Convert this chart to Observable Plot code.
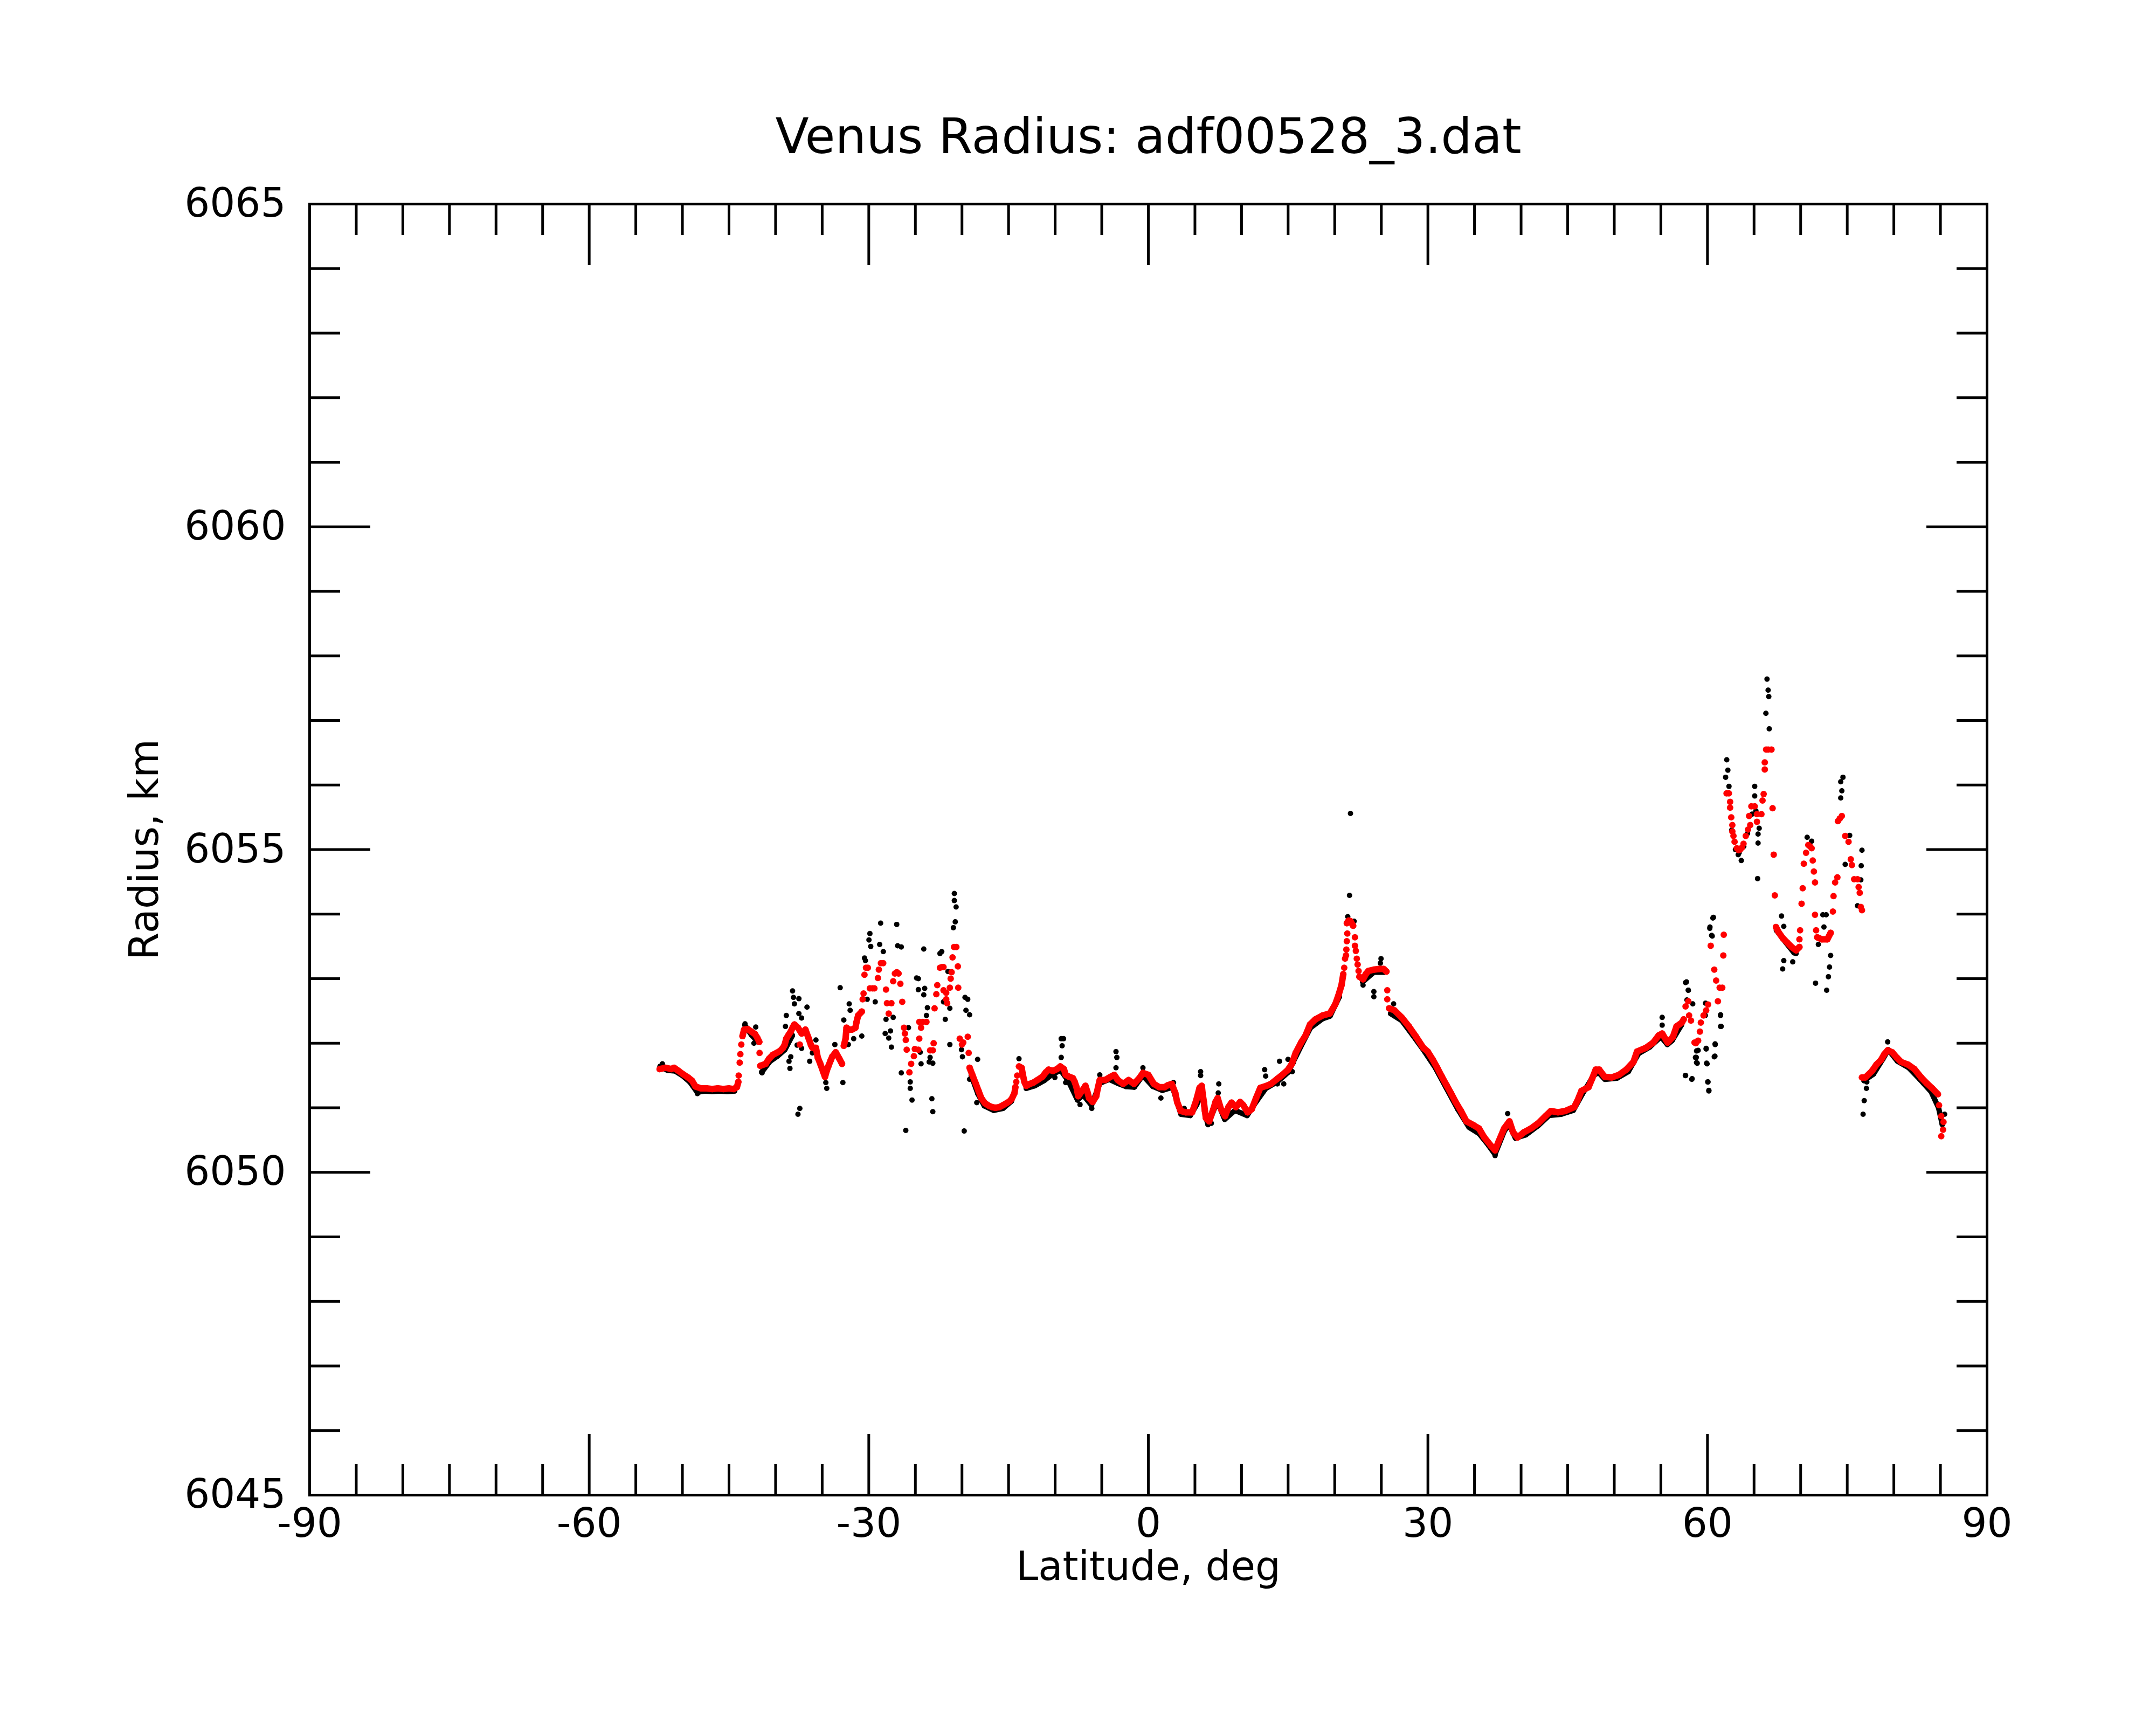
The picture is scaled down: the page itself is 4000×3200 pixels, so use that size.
<!DOCTYPE html>
<html><head><meta charset="utf-8">
<script src="https://cdn.jsdelivr.net/npm/d3@7"></script>
<script src="https://cdn.jsdelivr.net/npm/@observablehq/plot@0.6"></script>
<style>html,body{margin:0;padding:0;background:#fff;} #chart svg{display:block;}</style>
</head><body><div id="chart"></div>
<script>
const titleText = "Venus Radius: adf00528_3.dat";
const xLabel = "Latitude, deg";
const yLabel = "Radius, km";
const xDomain = [-90, 90];
const yDomain = [6045, 6065];
const xMajorTicks = [-90, -60, -30, 0, 30, 60, 90];
const xMinorTicks = [-85, -80, -75, -70, -65, -55, -50, -45, -40, -35, -25, -20, -15, -10, -5, 5, 10, 15, 20, 25, 35, 40, 45, 50, 55, 65, 70, 75, 80, 85];
const yMajorTicks = [6045, 6050, 6055, 6060, 6065];
const yMinorTicks = [6046, 6047, 6048, 6049, 6051, 6052, 6053, 6054, 6056, 6057, 6058, 6059, 6061, 6062, 6063, 6064];

// Smoothed radius (red), continuous runs
const redTrack = [
 [[-52.44,6051.60],[-51.8,6051.62],[-51.2,6051.60],[-50.9,6051.62],[-50.4,6051.57],[-49.93,6051.52],[-49.4,6051.47],[-48.97,6051.42],[-48.6,6051.33],[-48.0,6051.30],[-47.4,6051.30],[-46.8,6051.29],[-46.2,6051.30],[-45.6,6051.29],[-45.0,6051.30],[-44.5,6051.29],[-44.15,6051.32],[-44.0,6051.40]],
 [[-43.55,6052.11],[-43.38,6052.21],[-43.0,6052.22],[-42.6,6052.18],[-42.2,6052.14],[-41.95,6052.08],[-41.75,6052.02]],
 [[-41.64,6051.65],[-41.07,6051.68],[-40.7,6051.76],[-40.3,6051.82],[-39.9,6051.85],[-39.52,6051.88],[-39.2,6051.93],[-39.04,6051.97],[-38.85,6052.07],[-38.6,6052.13],[-38.37,6052.18],[-38.15,6052.25],[-37.98,6052.29],[-37.6,6052.24],[-37.2,6052.15],[-36.8,6052.21],[-36.44,6052.07],[-36.2,6051.97],[-36.05,6051.93],[-35.67,6051.93],[-35.48,6051.78],[-35.2,6051.68],[-34.9,6051.56],[-34.7,6051.48],[-34.5,6051.58],[-34.32,6051.65],[-34.1,6051.73],[-33.93,6051.79],[-33.55,6051.86],[-33.16,6051.76],[-32.87,6051.68]],
 [[-32.68,6051.96],[-32.49,6052.07],[-32.39,6052.24],[-32.1,6052.21],[-31.81,6052.21],[-31.43,6052.24],[-31.33,6052.32],[-31.14,6052.43],[-30.75,6052.49]],
 [[-19.18,6051.62],[-18.89,6051.51],[-18.51,6051.37],[-18.22,6051.26],[-17.93,6051.15],[-17.54,6051.07],[-17.1,6051.03],[-16.77,6051.01],[-16.4,6051.00],[-16.0,6051.01],[-15.6,6051.04],[-15.23,6051.07],[-14.9,6051.10],[-14.65,6051.14],[-14.36,6051.23],[-14.27,6051.32]],
 [[-13.88,6051.64],[-13.6,6051.62],[-13.45,6051.50],[-13.3,6051.40],[-13.11,6051.34],[-12.7,6051.37],[-12.34,6051.39],[-11.9,6051.43],[-11.37,6051.48],[-11.0,6051.55],[-10.7,6051.59],[-10.22,6051.57],[-9.8,6051.60],[-9.45,6051.64],[-9.06,6051.60],[-8.87,6051.51],[-8.5,6051.48],[-8.1,6051.46],[-7.9,6051.40],[-7.71,6051.32],[-7.52,6051.18],[-7.13,6051.26],[-6.75,6051.34],[-6.55,6051.25],[-6.36,6051.15],[-5.98,6051.09],[-5.59,6051.18],[-5.4,6051.32],[-5.21,6051.43],[-4.63,6051.43],[-4.05,6051.48],[-3.66,6051.51],[-3.28,6051.43],[-2.7,6051.37],[-2.12,6051.43],[-1.54,6051.37],[-0.96,6051.46],[-0.58,6051.54],[0.0,6051.51],[0.58,6051.37],[1.16,6051.32],[1.74,6051.32],[2.1,6051.35],[2.51,6051.37],[2.89,6051.23],[3.09,6051.09],[3.47,6050.95],[4.01,6050.93],[4.7,6050.93],[5.15,6051.12],[5.5,6051.31],[5.73,6051.34],[5.84,6051.20],[5.96,6051.09],[6.07,6050.95],[6.18,6050.84],[6.53,6050.79],[6.98,6050.98],[7.21,6051.09],[7.44,6051.15],[7.79,6050.98],[8.24,6050.87],[8.59,6051.01],[8.93,6051.08],[9.39,6051.01],[9.85,6051.09],[10.19,6051.04],[10.65,6050.93],[11.1,6050.98],[11.56,6051.15],[12.02,6051.31],[12.7,6051.34],[13.16,6051.37],[13.85,6051.45],[14.3,6051.50],[14.99,6051.59],[15.4,6051.68],[15.81,6051.85],[16.39,6052.01],[16.87,6052.12],[17.35,6052.29],[17.93,6052.37],[18.7,6052.43],[19.47,6052.46],[20.05,6052.60],[20.44,6052.76],[20.73,6052.90],[20.92,6053.07]],
 [[21.3,6053.86],[21.5,6053.90],[21.69,6053.89],[21.98,6053.82]],
 [[22.65,6053.03],[23.04,6052.99],[23.33,6053.07],[23.62,6053.12],[24.2,6053.14],[24.77,6053.15],[25.26,6053.15],[25.55,6053.11]],
 [[25.84,6052.54],[26.41,6052.51],[27.18,6052.40],[27.96,6052.26],[28.73,6052.10],[29.5,6051.93],[29.98,6051.87],[30.5,6051.75],[31.0,6051.62],[31.5,6051.48],[32.0,6051.35],[32.5,6051.22],[32.97,6051.09],[33.55,6050.95],[34.13,6050.79],[34.9,6050.73],[35.48,6050.68],[36.05,6050.54],[36.83,6050.40],[37.21,6050.34],[37.6,6050.48],[38.18,6050.68],[38.75,6050.79],[39.14,6050.62],[39.62,6050.54],[40.3,6050.62],[41.07,6050.68],[41.84,6050.76],[42.61,6050.87],[43.19,6050.95],[43.96,6050.93],[44.73,6050.95],[45.7,6051.01],[46.08,6051.12],[46.47,6051.26],[47.24,6051.32],[47.62,6051.45],[48.01,6051.59],[48.39,6051.59],[48.97,6051.48],[49.74,6051.47],[50.51,6051.51],[51.28,6051.59],[52.06,6051.71],[52.44,6051.87],[53.41,6051.93],[54.18,6052.01],[54.76,6052.12],[55.14,6052.15],[55.72,6052.01],[56.3,6052.10],[56.68,6052.26],[57.26,6052.32],[57.45,6052.37]],
 [[67.35,6053.80],[67.59,6053.73],[68.07,6053.63],[68.55,6053.56],[69.03,6053.49],[69.51,6053.44],[69.87,6053.49]],
 [[71.78,6053.64],[72.26,6053.61],[72.86,6053.61],[73.22,6053.71]],
 [[76.58,6051.47],[76.94,6051.47],[77.66,6051.57],[78.14,6051.67],[78.62,6051.74],[78.98,6051.83],[79.34,6051.89],[79.82,6051.86],[80.3,6051.78],[80.78,6051.71],[81.5,6051.67],[82.21,6051.60],[82.93,6051.47],[83.53,6051.38],[84.13,6051.30],[84.73,6051.21]]
];

// Smoothed radius (red), isolated points
const redScatter = [
 [-43.96,6051.50],[-43.85,6051.70],[-43.78,6051.83],[-43.68,6051.98],[-41.72,6051.85],[-37.4,6051.98],
 [-30.66,6052.68],[-30.56,6052.77],[-30.46,6053.06],[-30.3,6053.17],[-30.1,6053.17],[-29.88,6052.85],[-29.6,6052.85],[-29.4,6052.85],[-29.02,6053.01],[-28.92,6053.14],[-28.7,6053.24],[-28.45,6053.24],[-28.15,6052.83],[-28.05,6052.62],[-27.86,6052.46],[-27.57,6052.62],[-27.38,6052.96],[-27.2,6053.08],[-26.99,6053.10],[-26.8,6053.08],[-26.61,6052.92],[-26.41,6052.64],[-26.22,6052.24],[-26.12,6052.15],[-26.03,6052.05],[-25.93,6051.90],[-25.64,6051.55],[-25.45,6051.68],[-25.16,6051.80],[-25.06,6051.91],
 [-24.58,6052.33],[-24.2,6052.33],[-23.81,6052.33],[-24.39,6052.24],[-24.58,6052.07],[-24.68,6051.90],[-23.42,6051.89],[-23.13,6051.89],[-23.04,6052.00],[-22.94,6052.54],[-22.75,6052.76],[-22.65,6052.90],[-22.36,6053.17],[-22.15,6053.18],[-21.98,6053.18],[-21.98,6052.82],[-21.69,6052.78],[-21.3,6052.86],[-21.69,6052.68],[-21.59,6052.62],[-21.21,6053.00],[-21.11,6053.10],[-21.01,6053.33],[-20.85,6053.49],[-20.6,6053.49],[-20.44,6053.19],[-20.4,6052.86],[-20.24,6052.07],[-19.86,6052.01],[-20.0,6051.98],[-19.38,6052.10],[-19.28,6051.85],
 [-14.17,6051.40],[-14.07,6051.50],
 [21.02,6053.17],[21.11,6053.31],[21.21,6053.36],[21.25,6053.45],[21.3,6053.58],[21.35,6053.70],
 [22.17,6053.64],[22.17,6053.51],[22.27,6053.43],[22.37,6053.31],[22.46,6053.22],[22.56,6053.12],
 [25.64,6052.82],[25.64,6052.68],
 [57.65,6052.57],[57.94,6052.65],[58.03,6052.43],[58.23,6052.35],[58.61,6052.01],[58.75,6052.00],[59.0,6052.04],[59.19,6052.18],[59.29,6052.32],[59.58,6052.43],[59.86,6052.51],[60.06,6052.60],[60.35,6053.51],[60.73,6053.14],[60.93,6052.97],[61.12,6052.65],[61.31,6052.86],[61.59,6052.86],[61.7,6053.36],[61.75,6053.68],
 [62.05,6055.87],[62.3,6055.87],[62.43,6055.74],[62.43,6055.65],[62.55,6055.50],[62.67,6055.38],[62.67,6055.28],[62.79,6055.21],[62.91,6055.12],[63.15,6055.02],[63.35,6054.99],[63.51,6055.00],[63.7,6055.03],[63.87,6055.09],[64.11,6055.21],[64.35,6055.31],[64.59,6055.38],[64.47,6055.52],[64.71,6055.67],[65.07,6055.67],[65.31,6055.55],[65.79,6055.55],[65.31,6055.43],[65.91,6055.76],[66.03,6055.86],[66.15,6056.24],[66.15,6056.35],[66.3,6056.55],[66.51,6056.55],[66.87,6056.55],[66.99,6055.64],[67.11,6054.92],[67.23,6054.29],
 [69.87,6053.61],[69.94,6053.75],[70.1,6054.16],[70.22,6054.40],[70.34,6054.78],[70.58,6054.95],[70.82,6055.07],[71.0,6055.05],[71.18,6055.02],[71.3,6054.83],[71.42,6054.66],[71.54,6054.49],[71.54,6053.99],[71.66,6053.75],
 [73.46,6054.04],[73.53,6054.28],[73.7,6054.49],[73.94,6054.57],[74.0,6055.44],[74.2,6055.48],[74.42,6055.52],[74.78,6055.21],[75.14,6055.12],[75.38,6054.85],[75.5,6054.76],[75.74,6054.54],[76.1,6054.54],[76.22,6054.42],[76.34,6054.33],[76.46,6054.11],[76.58,6054.06],
 [84.85,6051.04],[85.09,6050.87],[85.33,6050.78],[85.28,6050.66],[85.09,6050.56]
];

// Raw radius (black), continuous runs under the red
const blackTrack = [
 [[-52.4,6051.64],[-51.6,6051.58],[-50.8,6051.57],[-50.0,6051.50],[-49.2,6051.40],[-48.4,6051.24],[-47.6,6051.26],[-46.8,6051.25],[-46.0,6051.26],[-45.2,6051.25],[-44.4,6051.26]],
 [[-43.3,6052.28],[-42.6,6052.13],[-41.9,6052.02]],
 [[-41.5,6051.55],[-40.6,6051.72],[-39.8,6051.80],[-39.0,6051.90],[-38.2,6052.12]],
 [[-19.0,6051.50],[-18.3,6051.22],[-17.6,6051.03],[-16.6,6050.96],[-15.6,6050.99],[-14.7,6051.10]],
 [[-13.1,6051.30],[-12.2,6051.34],[-11.2,6051.42],[-10.3,6051.52],[-9.4,6051.58],[-8.6,6051.42],[-7.6,6051.12],[-7.0,6051.20],[-6.1,6051.04],[-5.2,6051.38],[-4.2,6051.44],[-3.3,6051.38],[-2.4,6051.33],[-1.5,6051.32],[-0.6,6051.50],[0.5,6051.33],[1.5,6051.27],[2.6,6051.32],[3.5,6050.90],[4.5,6050.88],[5.2,6051.05],[5.7,6051.28],[6.1,6050.90],[6.4,6050.74],[7.4,6051.10],[8.2,6050.82],[9.3,6050.96],[10.6,6050.88],[11.6,6051.10],[12.6,6051.30],[13.8,6051.40],[15.0,6051.55],[16.4,6051.96],[17.4,6052.24],[18.7,6052.38],[19.5,6052.42],[20.5,6052.72]],
 [[23.0,6052.95],[24.2,6053.10],[25.3,6053.10]],
 [[26.0,6052.46],[27.2,6052.35],[28.4,6052.12],[29.6,6051.88],[30.8,6051.62],[32.0,6051.30],[33.2,6050.98],[34.4,6050.70],[35.5,6050.60],[36.5,6050.42],[37.2,6050.28],[38.2,6050.64],[38.7,6050.74],[39.4,6050.53],[40.5,6050.58],[41.8,6050.72],[43.0,6050.88],[44.3,6050.90],[45.6,6050.96],[46.6,6051.22],[47.8,6051.50],[48.3,6051.55],[49.0,6051.44],[50.3,6051.46],[51.5,6051.56],[52.6,6051.84],[53.8,6051.94],[55.0,6052.10],[55.7,6051.98],[56.2,6052.04],[57.2,6052.28]],
 [[67.4,6053.75],[68.3,6053.58],[69.3,6053.40]],
 [[76.8,6051.42],[77.8,6051.52],[78.8,6051.75],[79.4,6051.90],[80.4,6051.72],[81.6,6051.62],[82.8,6051.44],[84.0,6051.25],[84.8,6051.00],[85.2,6050.74]]
];

// Raw radius (black), scattered points
const blackScatter = [
 [-52.15,6051.68],[-48.39,6051.22],[-28.73,6053.86],[-27.0,6053.84],[-29.88,6053.70],[-29.98,6053.60],[-29.79,6053.50],[-28.83,6053.53],[-28.44,6053.42],[-26.9,6053.51],[-26.51,6053.49],[-30.46,6053.32],[-30.36,6053.28],[-33.07,6052.86],[-38.18,6052.81],[-38.08,6052.71],[-37.5,6052.69],[-37.98,6052.61],[-36.63,6052.56],[-37.5,6052.46],[-38.85,6052.43],[-37.21,6052.39],[-38.94,6052.26],[-32.1,6052.61],[-32.0,6052.51],[-32.68,6052.36],[-30.75,6052.11],[-28.24,6052.15],[-27.67,6052.19],[-27.86,6052.08],[-27.57,6051.94],[-29.31,6052.64],[-30.17,6052.68],[-28.15,6052.37],[-27.38,6052.40],[-25.74,6052.24],[-24.87,6053.01],[-35.67,6052.05],[-36.34,6051.72],[-38.37,6051.79],[-38.56,6051.72],[-38.46,6051.61],[-37.69,6051.97],[-37.21,6051.92],[-36.05,6051.85],[-32.78,6051.39],[-26.51,6051.54],[-25.55,6051.40],[-25.55,6051.30],[-25.36,6051.12],[-26.03,6050.65],[-37.4,6050.99],[-37.6,6050.90],[-41.45,6051.54],[-42.32,6052.00],[-42.13,6052.25],[-43.28,6052.30],[-34.61,6051.39],[-34.51,6051.30],[-33.64,6051.98],[-32.2,6051.98],[-31.62,6052.07],
 [-20.82,6054.32],[-20.82,6054.21],[-20.63,6054.11],[-20.72,6053.88],[-20.92,6053.79],[-24.1,6053.46],[-22.36,6053.39],[-22.17,6053.42],[-24.68,6053.00],[-24.68,6052.83],[-24.0,6052.85],[-24.1,6052.75],[-23.71,6052.55],[-23.81,6052.43],[-21.79,6052.37],[-21.5,6053.11],[-21.3,6052.54],[-21.98,6052.64],[-19.67,6052.71],[-19.38,6052.68],[-19.57,6052.51],[-19.18,6052.44],[-21.3,6051.98],[-19.95,6051.79],[-20.05,6051.90],[-18.32,6051.75],[-24.48,6051.86],[-24.39,6051.68],[-23.52,6051.71],[-23.13,6051.69],[-23.42,6051.78],[-23.23,6051.14],[-23.13,6050.94],[-19.76,6050.64],[-18.41,6051.08],[-19.18,6051.44],[-13.88,6051.76],[-9.35,6052.07],[-9.1,6052.07],[-9.25,6051.96],[-9.35,6051.78],[-3.47,6051.87],[-3.38,6051.78],[-3.47,6051.62],[-8.87,6051.39],[-10.03,6051.47],[-7.33,6051.05],[-6.07,6050.99],[-0.58,6051.62],[1.35,6051.15],[2.7,6051.39],[3.85,6050.99],[-5.21,6051.51],
 [5.61,6051.56],[5.61,6051.50],[7.56,6051.37],[7.5,6051.23],[6.76,6050.76],[12.48,6051.59],[12.59,6051.49],[14.08,6051.72],[14.99,6051.75],[15.56,6051.70],[15.45,6051.56],[13.85,6051.37],[14.53,6051.37],[12.02,6051.26],
 [21.69,6055.56],[21.59,6054.29],[21.4,6053.96],[22.08,6053.89],[23.04,6052.90],[24.2,6052.80],[24.2,6052.72],[24.97,6053.31],[24.9,6053.24],[26.32,6052.61],[26.03,6052.46],
 [38.56,6050.91],[37.21,6050.26],[55.14,6052.40],[55.14,6052.28],[57.65,6052.94],[57.94,6052.82],[58.42,6052.61],[57.65,6051.50],[58.32,6051.44],[59.0,6051.89],[58.8,6051.78],[58.9,6051.69],[59.86,6051.91],[59.96,6051.68],[60.06,6051.40],[60.15,6051.26],[60.83,6051.98],[60.73,6051.79],[61.41,6052.44],[61.41,6052.26],[60.25,6053.78],[60.64,6053.95],[60.45,6053.67],[59.77,6052.43],
 [57.75,6052.95],[57.95,6052.82],[57.8,6052.67],[57.63,6051.50],[58.35,6051.45],[60.58,6053.94],[60.27,6053.80],[60.51,6053.66],[59.79,6052.62],[59.86,6051.92],[59.91,6051.69],[60.03,6051.40],[60.15,6051.27],[60.82,6051.99],[60.8,6051.80],[61.4,6052.43],[61.47,6052.26],[58.83,6051.88],[58.71,6051.78],[58.83,6051.70],
 [66.39,6057.64],[66.51,6057.47],[66.58,6057.37],[66.27,6057.11],[66.63,6056.87],[62.07,6056.39],[62.19,6056.23],[61.95,6056.12],[62.31,6055.98],[63.63,6054.83],[63.4,6054.95],[65.07,6055.98],[65.07,6055.83],[65.55,6055.33],[65.43,6055.24],[65.43,6055.10],[65.38,6054.55],[67.95,6053.97],[68.19,6053.81],[68.19,6053.28],[68.07,6053.15],[69.15,6053.26],[69.51,6053.39],[70.7,6055.19],[71.18,6055.13],[72.38,6053.99],[72.74,6053.99],[72.5,6053.80],[71.9,6053.53],[71.6,6052.93],[73.22,6053.36],[73.1,6053.18],[72.98,6053.03],[72.79,6052.82],[74.54,6056.12],[74.3,6056.05],[74.42,6055.91],[74.3,6055.80],[75.26,6055.22],[74.78,6054.77],[76.58,6054.99],[76.5,6054.75],[76.46,6054.53],[76.1,6054.13],
 [62.6,6055.30],[63.0,6055.00],[63.3,6054.92],[63.9,6055.05],[64.3,6055.25],[64.8,6055.55],[65.2,6055.60],
 [76.7,6050.90],[76.82,6051.11],[77.06,6051.30],[77.1,6051.40],[79.34,6052.02],[85.45,6050.90]
];

const runs = segs => segs.flatMap((s, i) => s.map(([lat, rad]) => ({lat, rad, run: i})));
const pts = arr => arr.map(([lat, rad]) => ({lat, rad}));

const font = "DejaVu Sans";
const tickW = 5;
const axisStyle = {strokeWidth: tickW, fill: "none", label: null};

const chart = Plot.plot({
  width: 4000,
  height: 3200,
  marginTop: 378,
  marginRight: 314,
  marginBottom: 427,
  marginLeft: 574,
  x: {domain: xDomain, axis: null},
  y: {domain: yDomain, axis: null},
  style: {fontFamily: font, background: "white", color: "black"},
  marks: [
    Plot.line(runs(blackTrack), {x: "lat", y: "rad", z: "run", stroke: "black", strokeWidth: 10}),
    Plot.dot(runs(blackTrack), {x: "lat", y: "rad", r: 5, fill: "black"}),
    Plot.dot(pts(blackScatter), {x: "lat", y: "rad", r: 5, fill: "black"}),
    Plot.line(runs(redTrack), {x: "lat", y: "rad", z: "run", stroke: "#ff0000", strokeWidth: 12}),
    Plot.dot(runs(redTrack), {x: "lat", y: "rad", r: 6, fill: "#ff0000"}),
    Plot.dot(pts(redScatter), {x: "lat", y: "rad", r: 6, fill: "#ff0000"}),
    Plot.frame({stroke: "black", strokeWidth: tickW}),
    Plot.axisX({ticks: xMinorTicks, anchor: "bottom", tickSize: -57, ...axisStyle}),
    Plot.axisX({ticks: xMinorTicks, anchor: "top", tickSize: -57, ...axisStyle}),
    Plot.axisX({ticks: xMajorTicks, anchor: "bottom", tickSize: -113, ...axisStyle}),
    Plot.axisX({ticks: xMajorTicks, anchor: "top", tickSize: -113, ...axisStyle}),
    Plot.axisY({ticks: yMinorTicks, anchor: "left", tickSize: -57, ...axisStyle}),
    Plot.axisY({ticks: yMinorTicks, anchor: "right", tickSize: -57, ...axisStyle}),
    Plot.axisY({ticks: yMajorTicks, anchor: "left", tickSize: -113, ...axisStyle}),
    Plot.axisY({ticks: yMajorTicks, anchor: "right", tickSize: -113, ...axisStyle}),
    Plot.axisX({ticks: xMajorTicks, anchor: "bottom", tickSize: 0, tickPadding: 25, fontSize: 74, tickFormat: d => String(d), label: null}),
    Plot.axisY({ticks: yMajorTicks, anchor: "left", tickSize: 0, tickPadding: 44, fontSize: 74, tickFormat: d => String(d), label: null}),
    Plot.text([titleText], {text: d => d, frameAnchor: "top", textAnchor: "middle", dy: -95, fontSize: 91, lineAnchor: "bottom"}),
    Plot.text([xLabel], {text: d => d, frameAnchor: "bottom", textAnchor: "middle", dy: 105, fontSize: 74, lineAnchor: "top"}),
    Plot.text([yLabel], {text: d => d, frameAnchor: "left", textAnchor: "middle", dx: -305, rotate: -90, fontSize: 74, lineAnchor: "middle"})
  ]
});
document.getElementById("chart").append(chart);
</script>
</body></html>
